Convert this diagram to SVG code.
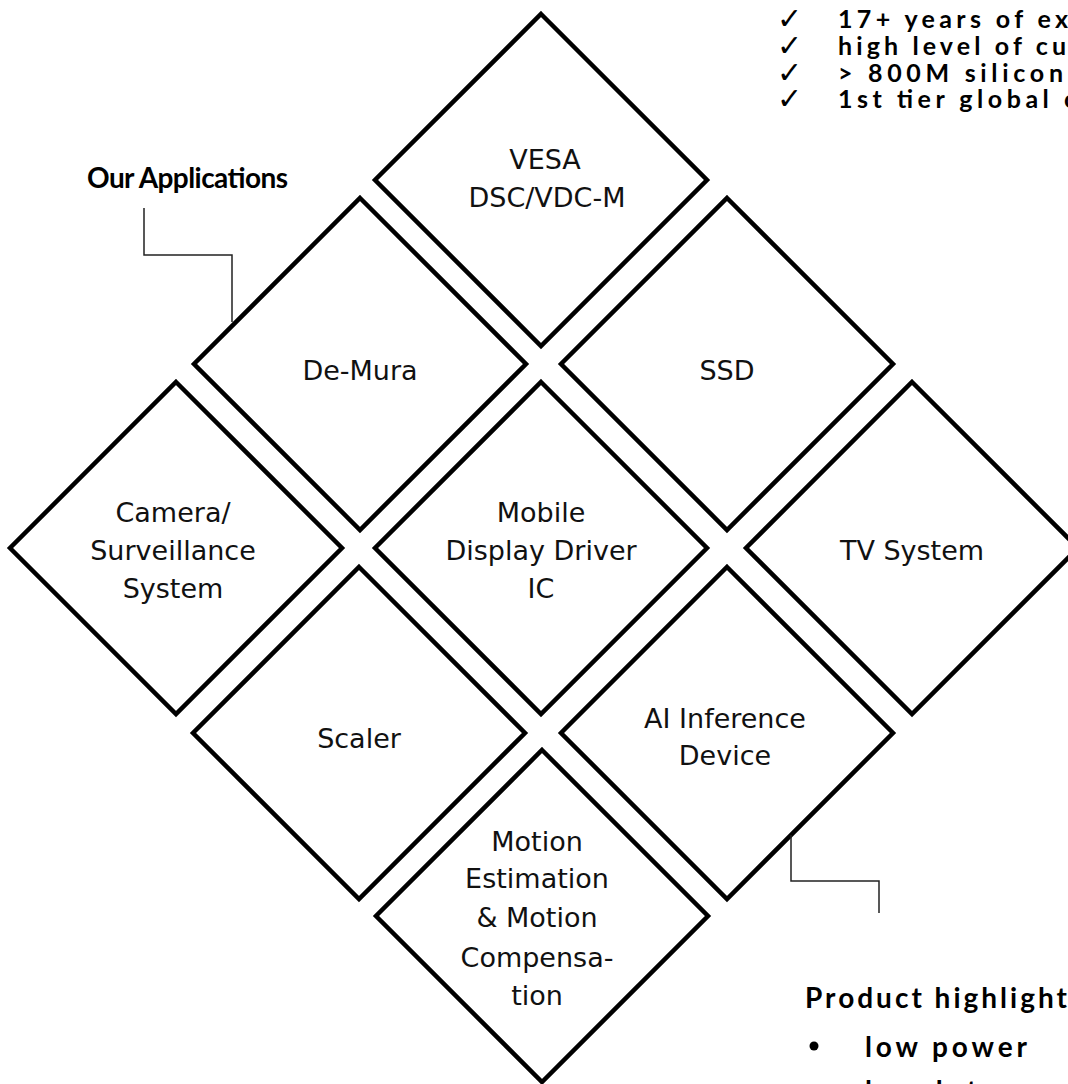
<svg xmlns="http://www.w3.org/2000/svg" width="1068" height="1084" viewBox="0 0 1068 1084">
<defs>
<style>
.dia{fill:#fff;stroke:#000;stroke-width:4.5;stroke-linejoin:miter}
.lbl{font-family:"DejaVu Sans","Liberation Sans",sans-serif;font-size:27px;fill:#111;text-anchor:middle}
.bold{font-family:Lato,"Liberation Sans",sans-serif;font-weight:bold;fill:#000}
.chk{font-family:"DejaVu Sans",sans-serif;font-size:30px;fill:#000}
.conn{fill:none;stroke:#222;stroke-width:1.5}
</style>
<polygon id="shape" class="dia" points="0,-166 166,0 0,166 -166,0"/>
</defs>
<rect width="1068" height="1084" fill="#fff"/>

<g id="vesa" transform="translate(541,180)"><use href="#shape"/>
<text class="lbl" x="4" y="-11">VESA</text><text class="lbl" x="6" y="27">DSC/VDC-M</text></g>
<g id="demura" transform="translate(360,364)"><use href="#shape"/>
<text class="lbl" x="0" y="16">De-Mura</text></g>
<g id="ssd" transform="translate(727,364)"><use href="#shape"/>
<text class="lbl" x="0" y="16">SSD</text></g>
<g id="camera" transform="translate(176,548)"><use href="#shape"/>
<text class="lbl" x="-3" y="-26">Camera/</text><text class="lbl" x="-3" y="12">Surveillance</text><text class="lbl" x="-3" y="50">System</text></g>
<g id="mobile" transform="translate(541,548)"><use href="#shape"/>
<text class="lbl" x="0" y="-26">Mobile</text><text class="lbl" x="0" y="12">Display Driver</text><text class="lbl" x="0" y="50">IC</text></g>
<g id="tv" transform="translate(912,548)"><use href="#shape"/>
<text class="lbl" x="0" y="12">TV System</text></g>
<g id="scaler" transform="translate(359,733)"><use href="#shape"/>
<text class="lbl" x="0" y="15">Scaler</text></g>
<g id="ai" transform="translate(727,733)"><use href="#shape"/>
<text class="lbl" x="-2" y="-5">AI Inference</text><text class="lbl" x="-2" y="32">Device</text></g>
<g id="motion" transform="translate(542,916)"><use href="#shape"/>
<text class="lbl" x="-5" y="-65">Motion</text><text class="lbl" x="-5" y="-28">Estimation</text><text class="lbl" x="-5" y="11">&amp; Motion</text><text class="lbl" x="-5" y="51">Compensa-</text><text class="lbl" x="-5" y="89">tion</text></g>

<g id="connectors">
<path class="conn" d="M144,208 V255 H232 V322"/>
<path class="conn" d="M791,835 V881 H879 V913"/>
</g>

<g id="our-applications">
<text class="bold" x="87" y="188" font-size="28" textLength="201">Our Applications</text>
</g>

<g id="experience-list">
<text class="chk" x="777" y="29">✓</text>
<text class="chk" x="777" y="56">✓</text>
<text class="chk" x="777" y="83">✓</text>
<text class="chk" x="777" y="109">✓</text>
<g class="bold" font-size="25">
<text x="838" y="28" textLength="230">17+ years of ex</text>
<text x="838" y="55" textLength="228">high level of cu</text>
<text x="838" y="82" textLength="225">&gt; 800M silicon</text>
<text x="838" y="108" textLength="238">1st tier global c</text>
</g>
</g>

<g id="product-highlights" class="bold" font-size="28">
<text x="805" y="1008" textLength="262">Product highlight</text>
<circle cx="814" cy="1046" r="4.5" fill="#000"/>
<text x="865" y="1057" textLength="162">low power</text>
<text x="865" y="1101" textLength="190">low latency</text>
</g>
</svg>
